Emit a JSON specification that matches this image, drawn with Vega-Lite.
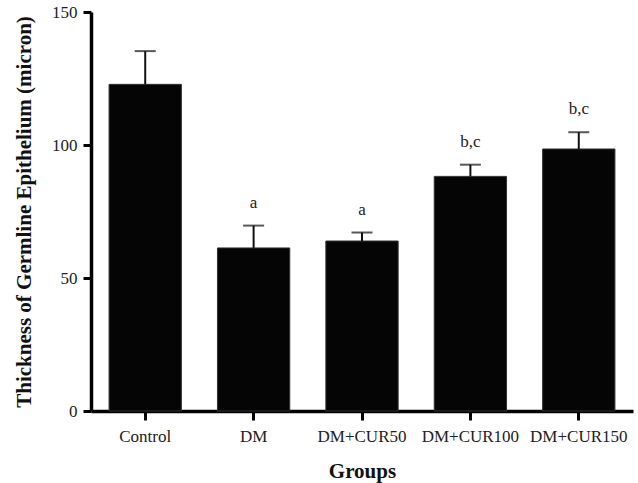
{
  "$schema": "https://vega.github.io/schema/vega-lite/v6.json",
  "width": 542,
  "height": 399,
  "autosize": {"type": "none"},
  "padding": {"left": 91, "top": 12, "right": 5, "bottom": 72},
  "background": "white",
  "config": {
    "view": {"stroke": null},
    "font": "Liberation Serif"
  },
  "data": {
    "values": [
      {"group": "Control", "mean": 122.8, "upper": 135.3, "sig": ""},
      {"group": "DM", "mean": 61.3, "upper": 69.7, "sig": "a"},
      {"group": "DM+CUR50", "mean": 63.9, "upper": 67.1, "sig": "a"},
      {"group": "DM+CUR100", "mean": 88.2, "upper": 92.6, "sig": "b,c"},
      {"group": "DM+CUR150", "mean": 98.5, "upper": 104.8, "sig": "b,c"}
    ]
  },
  "encoding": {
    "x": {
      "field": "group",
      "type": "nominal",
      "sort": null,
      "scale": {"paddingInner": 0.333, "paddingOuter": 0.1667},
      "axis": {
        "title": "Groups",
        "labelAngle": 0,
        "labelFont": "Liberation Serif",
        "labelFontSize": 17,
        "labelColor": "#222",
        "labelPadding": 8,
        "titleFont": "Liberation Serif",
        "titleFontSize": 21,
        "titleFontWeight": "bold",
        "titleColor": "#111",
        "titlePadding": 16,
        "domainColor": "#000",
        "domainWidth": 3.5,
        "tickColor": "#000",
        "tickWidth": 3,
        "tickSize": 9
      }
    }
  },
  "layer": [
    {
      "mark": {"type": "bar", "color": "#050505", "stroke": "#333", "strokeWidth": 1},
      "encoding": {
        "y": {
          "field": "mean",
          "type": "quantitative",
          "scale": {"domain": [0, 150], "nice": false},
          "axis": {
            "title": "Thickness of Germline Epithelium (micron)",
            "values": [0, 50, 100, 150],
            "grid": false,
            "labelFont": "Liberation Serif",
            "labelFontSize": 17,
            "labelColor": "#222",
            "labelPadding": 6,
            "titleFont": "Liberation Serif",
            "titleFontSize": 21,
            "titleFontWeight": "bold",
            "titleColor": "#111",
            "titlePadding": 17,
            "domainColor": "#000",
            "domainWidth": 3.5,
            "tickColor": "#000",
            "tickWidth": 3,
            "tickSize": 8
          }
        }
      }
    },
    {
      "mark": {"type": "rule", "color": "#111", "strokeWidth": 2},
      "encoding": {
        "y": {"field": "mean", "type": "quantitative"},
        "y2": {"field": "upper"}
      }
    },
    {
      "mark": {"type": "tick", "color": "#111", "thickness": 2, "size": 21},
      "encoding": {
        "y": {"field": "upper", "type": "quantitative"}
      }
    },
    {
      "mark": {"type": "text", "font": "Liberation Serif", "fontSize": 17, "color": "#222", "baseline": "middle", "dy": -23},
      "encoding": {
        "y": {"field": "upper", "type": "quantitative"},
        "text": {"field": "sig", "type": "nominal"}
      }
    }
  ]
}
